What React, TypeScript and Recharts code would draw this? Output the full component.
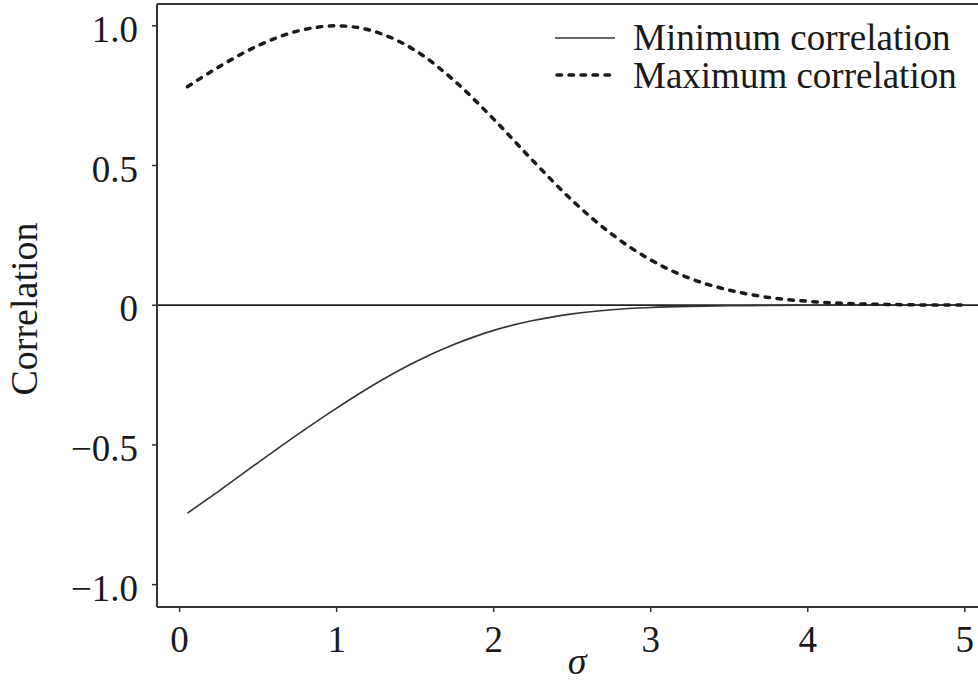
import React from "react";
import { LineChart, Line, XAxis, YAxis, ReferenceLine, Label } from "recharts";

// sigma values and the min / max attainable correlation
const sigma = [
  0.05, 0.25, 0.5, 0.75, 1, 1.25, 1.5, 1.75, 2, 2.25, 2.5, 2.75, 3, 3.25, 3.5,
  3.75, 4, 4.25, 4.5, 4.75, 5,
];
const maxCorr = [
  0.782, 0.853, 0.929, 0.981, 1.0, 0.978, 0.912, 0.803, 0.666, 0.517, 0.375,
  0.255, 0.162, 0.096, 0.054, 0.028, 0.014, 0.006, 0.003, 0.001, 0.0004,
];
const minCorr = [
  -0.744, -0.665, -0.563, -0.463, -0.368, -0.28, -0.203, -0.14, -0.09, -0.055,
  -0.031, -0.016, -0.008, -0.004, -0.002, -0.001, 0, 0, 0, 0, 0,
];
const xTicks = [0, 1, 2, 3, 4, 5];
const yTicks = [-1, -0.5, 0, 0.5, 1];
const seriesNames = ["Minimum correlation", "Maximum correlation"];

const X_DOMAIN: [number, number] = [-0.144, 5.084];
const Y_DOMAIN: [number, number] = [-1.08, 1.078];

const data = sigma.map((s, i) => ({ s, min: minCorr[i], max: maxCorr[i] }));

const FONT = "'Liberation Serif', 'Times New Roman', serif";
const INK = "#1a1a1a";

const fmtY = (v: number) => (v === 0 ? "0" : v.toFixed(1).replace("-", "\u2212"));

function LegendBox() {
  const row = { display: "flex", alignItems: "center", height: 37.5 };
  return (
    <div
      style={{
        position: "absolute",
        top: 19,
        left: 555,
        fontFamily: FONT,
        fontSize: 37,
        color: INK,
        lineHeight: "37.5px",
        whiteSpace: "nowrap",
      }}
    >
      <div style={row}>
        <svg width={78} height={10}>
          <line x1={0} y1={5} x2={60} y2={5} stroke="#333" strokeWidth={1.6} />
        </svg>
        <span>{seriesNames[0]}</span>
      </div>
      <div style={row}>
        <svg width={78} height={10}>
          <line
            x1={2}
            y1={5}
            x2={58}
            y2={5}
            stroke={INK}
            strokeWidth={3.5}
            strokeDasharray="4.5 7.5"
            strokeLinecap="round"
          />
        </svg>
        <span>{seriesNames[1]}</span>
      </div>
    </div>
  );
}

export default function App() {
  return (
    <div style={{ position: "absolute", left: 0, top: 0, width: 978, height: 685, background: "#fff" }}>
      <LineChart
        width={978}
        height={685}
        data={data}
        margin={{ top: 4, right: 0, left: 0, bottom: 0 }}
      >
        <XAxis
          dataKey="s"
          type="number"
          domain={X_DOMAIN}
          ticks={xTicks}
          allowDataOverflow
          height={78}
          axisLine={{ stroke: "#333", strokeWidth: 2 }}
          tickLine={{ stroke: "#333", strokeWidth: 1.5 }}
          tickSize={5}
          tickMargin={14}
          tick={{ fill: INK, fontSize: 37, fontFamily: FONT }}
        >
          <Label
            content={() => (
              <text
                x={577}
                y={674}
                textAnchor="middle"
                fontFamily={FONT}
                fontSize={38}
                fontStyle="italic"
                fill={INK}
              >
                σ
              </text>
            )}
          />
        </XAxis>
        <YAxis
          type="number"
          domain={Y_DOMAIN}
          ticks={yTicks}
          allowDataOverflow
          width={157}
          axisLine={{ stroke: "#333", strokeWidth: 2 }}
          tickLine={{ stroke: "#333", strokeWidth: 1.5 }}
          tickSize={5}
          tickMargin={14}
          tickFormatter={fmtY}
          tick={{ fill: INK, fontSize: 37, fontFamily: FONT, dy: 3 }}
        >
          <Label
            content={() => (
              <text
                x={24}
                y={309}
                transform="rotate(-90 24 309)"
                textAnchor="middle"
                dominantBaseline="central"
                fontFamily={FONT}
                fontSize={38}
                fill={INK}
              >
                Correlation
              </text>
            )}
          />
        </YAxis>
        <ReferenceLine y={Y_DOMAIN[1]} stroke="#333" strokeWidth={2} ifOverflow="visible" />
        <ReferenceLine y={0} stroke="#222" strokeWidth={1.8} />
        <Line
          type="monotone"
          dataKey="min"
          name={seriesNames[0]}
          stroke="#333"
          strokeWidth={1.6}
          dot={false}
          isAnimationActive={false}
        />
        <Line
          type="monotone"
          dataKey="max"
          name={seriesNames[1]}
          stroke={INK}
          strokeWidth={3.5}
          strokeDasharray="4.5 7.5"
          strokeLinecap="round"
          dot={false}
          isAnimationActive={false}
        />
      </LineChart>
      <LegendBox />
    </div>
  );
}
